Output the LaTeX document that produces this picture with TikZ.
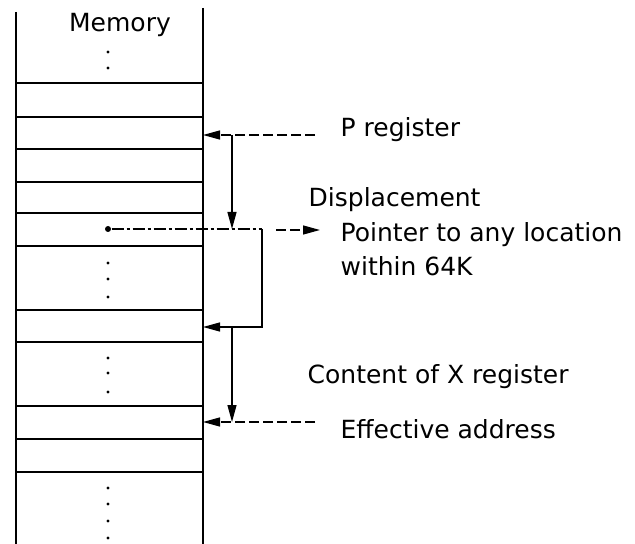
\documentclass[tikz,border=0pt]{standalone}
\usepackage{fontspec}
\setmainfont{DejaVu Sans}
\usetikzlibrary{arrows.meta}
\begin{document}
\begin{tikzpicture}[x=1bp,y=-1bp,line width=1.3bp,
  lbl/.style={font=\fontsize{25bp}{30bp}\selectfont, inner sep=0pt, anchor=base west},
  tip/.style={-{Triangle[length=17bp,width=9bp]}},
  longdash/.style={dash pattern=on 10bp off 4bp},
  dashdot/.style={dash pattern=on 12bp off 3bp on 3bp off 3bp},
  memdot/.style={circle, fill, inner sep=0pt, minimum size=3.2bp}]
\useasboundingbox (0,0) rectangle (635,544);
% memory column
\draw (16,12) -- (16,544);
\draw (203,8) -- (203,544);
\foreach \y in {83,117,149,182,213,246,310,342,406,439,472}
  \draw (16,\y) -- (203,\y);
\node[font=\fontsize{25bp}{30bp}\selectfont, inner sep=0pt, anchor=base] (mem) at (120,32) {Memory};
\foreach \y in {52,68,263,279,297,358,373,392,488,504,521,538}
  \node[memdot] at (108,\y) {};
\node[circle, fill, inner sep=0pt, minimum size=6bp] (bul) at (108,229) {};
% labels
\node[lbl] (preg) at (340,137) {P register};
\node[lbl] (disp) at (308,207) {Displacement};
\node[lbl] (ptr) at (340,242) {Pointer to any location};
\node[lbl] (wi) at (340,275) {within 64K};
\node[lbl] (cont) at (307,383) {Content of X register};
\node[lbl] (eff) at (340,438) {Effective address};
% coordinates
\coordinate (eP) at (203,135);
\coordinate (pEnd) at (315,135);
\coordinate (j1) at (232,135);
\coordinate (j2) at (232,229);
\coordinate (c1) at (262,229);
\coordinate (c2) at (262,327);
\coordinate (eX) at (203,327);
\coordinate (j3) at (232,327);
\coordinate (j4) at (232,422);
\coordinate (eE) at (203,422);
\coordinate (eEnd) at (315,422);
\coordinate (pa) at (276,230);
\coordinate (pb) at (320,230);
% connectors
\draw[tip, longdash] (pEnd) -- (eP);
\draw[tip] (j1) -- (j2);
\draw[dashdot] (bul) -- (c1);
\draw[tip] (c1) -- (c2) -- (eX);
\draw[tip] (j3) -- (j4);
\draw[tip, longdash] (eEnd) -- (eE);
\draw[tip, longdash] (pa) -- (pb);
\end{tikzpicture}
\end{document}
